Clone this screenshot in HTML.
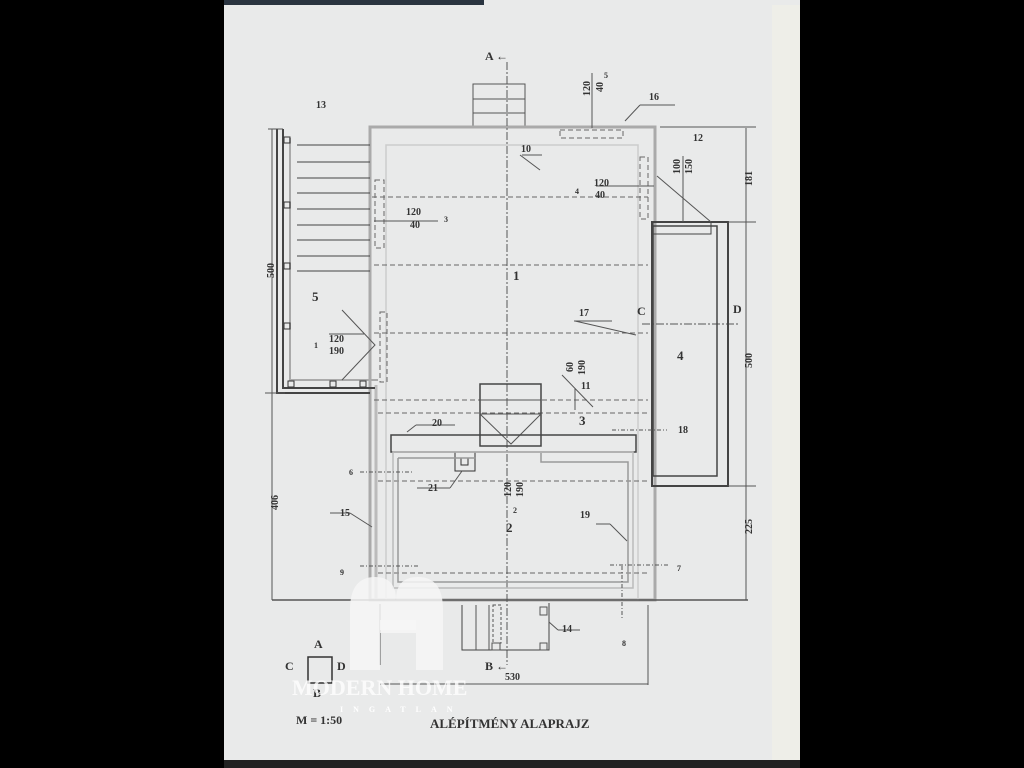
<!DOCTYPE html>
<html><head><meta charset="utf-8"><style>
html,body{margin:0;padding:0;background:#000;width:1024px;height:768px;overflow:hidden}
svg{display:block}
text{font-family:"Liberation Serif",serif;font-weight:bold;fill:#333}
</style></head><body>
<svg width="1024" height="768" viewBox="0 0 1024 768">
<rect x="0" y="0" width="1024" height="768" fill="#000"/>
<rect x="224" y="0" width="260" height="6" fill="#2a3440"/>
<rect x="224" y="5" width="576" height="756" fill="#e9eaea"/>
<rect x="484" y="0" width="316" height="6" fill="#e9eaea"/>
<rect x="772" y="5" width="28" height="756" fill="#eeeee8"/>
<rect x="224" y="760" width="576" height="8" fill="#222"/>
<g stroke="#555" fill="none" stroke-width="1">
<rect x="473" y="84" width="52" height="43"/>
<line x1="473" y1="99" x2="525" y2="99"/><line x1="473" y1="113" x2="525" y2="113"/>
<path d="M370 145 V127 H655 V600 H370 Z" stroke="#aaa" stroke-width="3"/>
<rect x="386" y="145" width="252" height="455" stroke="#ccc" stroke-width="1.5"/>
<line x1="376" y1="385" x2="376" y2="600" stroke="#bbb" stroke-width="3"/>
<path d="M277 129 V393 H370" stroke="#444" stroke-width="2"/>
<path d="M283 129 V388 H375" stroke="#444" stroke-width="2"/>
<path d="M290 138 V380 H378" stroke="#aaa" stroke-width="2"/>
<g stroke="#444">
<line x1="297" y1="145" x2="370" y2="145"/><line x1="297" y1="162" x2="370" y2="162"/>
<line x1="297" y1="178" x2="370" y2="178"/><line x1="297" y1="193" x2="370" y2="193"/>
<line x1="297" y1="209" x2="370" y2="209"/><line x1="297" y1="225" x2="370" y2="225"/>
<line x1="297" y1="240" x2="370" y2="240"/><line x1="297" y1="256" x2="370" y2="256"/>
<line x1="297" y1="271" x2="370" y2="271"/>
</g>
<g stroke="#333"><rect x="284" y="137" width="6" height="6"/><rect x="284" y="202" width="6" height="6"/><rect x="284" y="263" width="6" height="6"/><rect x="284" y="323" width="6" height="6"/><rect x="330" y="381" width="6" height="6"/><rect x="360" y="381" width="6" height="6"/><rect x="288" y="381" width="6" height="6"/></g>
<g stroke="#666" stroke-dasharray="5,3">
<line x1="372" y1="197" x2="648" y2="197"/><line x1="374" y1="265" x2="648" y2="265"/>
<line x1="374" y1="333" x2="648" y2="333"/><line x1="374" y1="400" x2="648" y2="400"/>
<line x1="378" y1="481" x2="648" y2="481"/><line x1="378" y1="573" x2="648" y2="573"/>
<line x1="378" y1="413" x2="648" y2="413"/>
<rect x="560" y="130" width="63" height="8"/><rect x="640" y="157" width="8" height="62"/>
<rect x="375" y="180" width="9" height="68"/><rect x="380" y="312" width="7" height="70"/>
</g>
<line x1="507" y1="62" x2="507" y2="665" stroke="#555" stroke-dasharray="8,2,2,2"/>
<line x1="642" y1="324" x2="740" y2="324" stroke="#555" stroke-dasharray="8,2,2,2"/>
<rect x="652" y="222" width="76" height="264" stroke="#444" stroke-width="2"/>
<rect x="653" y="226" width="64" height="250" stroke="#444" stroke-width="1.5"/>
<rect x="653" y="222" width="58" height="12" stroke="#444"/>
<line x1="657" y1="176" x2="711" y2="222"/>
<line x1="683" y1="156" x2="683" y2="222"/>
<line x1="596" y1="186" x2="654" y2="186"/>
<line x1="592" y1="73" x2="592" y2="128"/>
<line x1="625" y1="121" x2="640" y2="105"/><line x1="640" y1="105" x2="675" y2="105"/>
<line x1="520" y1="155" x2="540" y2="170"/><line x1="522" y1="155" x2="542" y2="155"/>
<line x1="374" y1="221" x2="438" y2="221"/>
<line x1="329" y1="334" x2="364" y2="334"/>
<path d="M342 310 L375 345 L342 380"/>
<line x1="575" y1="321" x2="636" y2="335"/><line x1="574" y1="321" x2="612" y2="321"/>
<line x1="575" y1="388" x2="575" y2="410"/><line x1="562" y1="375" x2="593" y2="407"/>
<rect x="480" y="384" width="61" height="62" stroke="#444" stroke-width="1.5"/>
<line x1="480" y1="400" x2="541" y2="400"/><line x1="480" y1="414" x2="541" y2="414"/>
<path d="M480 414 L511 444 L541 414"/>
<rect x="391" y="435" width="245" height="17" stroke="#444" stroke-width="1.5"/>
<line x1="407" y1="432" x2="416" y2="425"/><line x1="416" y1="425" x2="455" y2="425"/>
<rect x="455" y="452" width="20" height="19" stroke="#333"/><rect x="461" y="458" width="7" height="7" stroke="#333"/>
<line x1="450" y1="488" x2="462" y2="471"/><line x1="417" y1="488" x2="450" y2="488"/>
<path d="M398 458 H476 M541 452 V462 H628 V582 H398 V458" stroke="#999" stroke-width="1.5"/>
<rect x="393" y="452" width="240" height="136" stroke="#bbb" stroke-width="1.5"/>
<line x1="372" y1="527" x2="350" y2="513"/><line x1="330" y1="513" x2="350" y2="513"/>
<line x1="596" y1="524" x2="610" y2="524"/><line x1="610" y1="524" x2="627" y2="541"/>
<g stroke-dasharray="4,2,1,2"><line x1="360" y1="472" x2="413" y2="472"/><line x1="360" y1="566" x2="420" y2="566"/><line x1="610" y1="565" x2="668" y2="565"/><line x1="612" y1="430" x2="667" y2="430"/><line x1="622" y1="566" x2="622" y2="620"/></g>
<path d="M462 605 V650 H549 V603" stroke="#444"/>
<line x1="476" y1="605" x2="476" y2="650"/><line x1="489" y1="605" x2="489" y2="650"/>
<rect x="493" y="605" width="8" height="38" stroke-dasharray="3,2"/>
<rect x="492" y="643" width="8" height="7"/><rect x="540" y="607" width="7" height="8"/><rect x="540" y="643" width="7" height="7"/>
<line x1="549" y1="622" x2="558" y2="630"/><line x1="558" y1="630" x2="580" y2="630"/>
<line x1="268" y1="129" x2="283" y2="129"/>
<line x1="272" y1="129" x2="272" y2="600"/><line x1="265" y1="393" x2="285" y2="393"/>
<line x1="272" y1="600" x2="748" y2="600" stroke-width="1.5"/>
<line x1="746" y1="128" x2="746" y2="600"/>
<line x1="660" y1="127" x2="756" y2="127"/><line x1="728" y1="222" x2="756" y2="222"/><line x1="728" y1="486" x2="756" y2="486"/>
<line x1="380" y1="604" x2="380" y2="665"/><line x1="648" y1="605" x2="648" y2="685"/>
<line x1="380" y1="684" x2="648" y2="684"/>
<rect x="308" y="657" width="24" height="26" stroke="#333" stroke-width="1.5"/>
</g>
<path d="M350 670 V610 Q350 577 375 577 Q396 577 396 600 Q396 577 418 577 Q443 577 443 610 V670 H416 V633 H380 V670 Z" fill="#f6f6f6" opacity="0.85"/>
<rect x="380" y="620" width="36" height="10" fill="#f6f6f6" opacity="0.85"/>
<g font-size="10">
<text x="485" y="60" font-size="12">A ←</text>
<text x="485" y="670" font-size="12">B ←</text>
<text x="316" y="108">13</text><text x="649" y="100">16</text><text x="693" y="141">12</text>
<text x="521" y="152">10</text><text x="594" y="186">120</text><text x="595" y="198">40</text><text x="575" y="194" font-size="8">4</text>
<text x="406" y="215">120</text><text x="410" y="228">40</text><text x="444" y="222" font-size="8">3</text>
<text x="513" y="280" font-size="13">1</text><text x="312" y="301" font-size="13">5</text>
<text x="329" y="342">120</text><text x="329" y="354">190</text><text x="314" y="348" font-size="8">1</text>
<text x="579" y="316">17</text><text x="677" y="360" font-size="13">4</text>
<text x="637" y="315" font-size="12">C</text><text x="733" y="313" font-size="12">D</text>
<text x="581" y="389">11</text><text x="579" y="425" font-size="13">3</text><text x="678" y="433">18</text>
<text x="432" y="426">20</text><text x="428" y="491">21</text>
<text x="349" y="475" font-size="8">6</text><text x="340" y="516">15</text>
<text x="506" y="532" font-size="13">2</text><text x="513" y="513" font-size="8">2</text>
<text x="580" y="518">19</text><text x="340" y="575" font-size="8">9</text><text x="677" y="571" font-size="8">7</text>
<text x="562" y="632">14</text><text x="622" y="646" font-size="8">8</text><text x="505" y="680">530</text>
<text x="314" y="648" font-size="12">A</text><text x="285" y="670" font-size="12">C</text><text x="337" y="670" font-size="12">D</text><text x="313" y="697" font-size="12">B</text>
<text x="296" y="724" font-size="12">M = 1:50</text>
<text x="430" y="728" font-size="13">ALÉPÍTMÉNY ALAPRAJZ</text>
<text x="292" y="695" font-size="22" font-weight="normal" style="fill:#fff" opacity="0.8">MODERN HOME</text>
<text x="340" y="712" font-size="8" letter-spacing="10" style="fill:#fff">INGATLAN</text>
</g>
<g font-size="10">
<text transform="translate(590,96) rotate(-90)">120</text><text transform="translate(603,92) rotate(-90)">40</text><text x="604" y="78" font-size="8">5</text>
<text transform="translate(680,174) rotate(-90)">100</text><text transform="translate(692,174) rotate(-90)">150</text>
<text transform="translate(752,186) rotate(-90)">181</text><text transform="translate(752,368) rotate(-90)">500</text><text transform="translate(752,534) rotate(-90)">225</text>
<text transform="translate(274,278) rotate(-90)">500</text><text transform="translate(278,510) rotate(-90)">406</text>
<text transform="translate(573,372) rotate(-90)">60</text><text transform="translate(585,375) rotate(-90)">190</text>
<text transform="translate(511,497) rotate(-90)">120</text><text transform="translate(523,497) rotate(-90)">190</text>
</g>
</svg>
</body></html>
